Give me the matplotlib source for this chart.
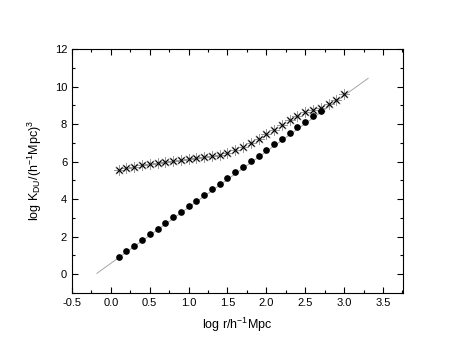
import matplotlib

matplotlib.use("Agg")
import matplotlib.pyplot as plt
from matplotlib.ticker import MultipleLocator

plt.rcParams["font.family"] = ["Liberation Sans", "DejaVu Sans"]

# filled circles
dot_x = [0.1, 0.2, 0.3, 0.4, 0.5, 0.6, 0.7, 0.8, 0.9, 1.0, 1.1, 1.2, 1.3, 1.4,
         1.5, 1.6, 1.7, 1.8, 1.9, 2.0, 2.1, 2.2, 2.3, 2.4, 2.5, 2.6, 2.7]
dot_y = [0.90, 1.22, 1.52, 1.82, 2.12, 2.42, 2.72, 3.02, 3.32, 3.62, 3.92, 4.22,
         4.52, 4.82, 5.12, 5.42, 5.72, 6.02, 6.32, 6.62, 6.92, 7.22, 7.52, 7.82,
         8.12, 8.42, 8.70]

# crosses
star_x = [0.1, 0.2, 0.3, 0.4, 0.5, 0.6, 0.7, 0.8, 0.9, 1.0, 1.1, 1.2, 1.3, 1.4,
          1.5, 1.6, 1.7, 1.8, 1.9, 2.0, 2.1, 2.2, 2.3, 2.4, 2.5, 2.6, 2.7, 2.8,
          2.9, 3.0]
star_y = [5.55, 5.63, 5.72, 5.80, 5.86, 5.92, 5.98, 6.03, 6.08, 6.12, 6.17, 6.22,
          6.28, 6.35, 6.44, 6.60, 6.79, 7.00, 7.22, 7.45, 7.70, 7.95, 8.20, 8.42,
          8.62, 8.75, 8.86, 9.05, 9.28, 9.62]

# thin reference line (end points)
fit_x = [-0.18, 3.31]
fit_y = [0.04, 10.44]

fig = plt.figure(figsize=(4.5, 3.55), dpi=100)
ax = fig.add_axes([0.16, 0.175, 0.736, 0.687])

ax.plot(fit_x, fit_y, color="0.6", lw=0.6, zorder=1)
ax.plot(star_x, star_y, ls="none", marker=(8, 2, 0), ms=7.5, mec="0.6",
        mew=0.6, zorder=2)
ax.plot(star_x, star_y, ls="none", marker="x", ms=5, mec="black", mew=0.8,
        zorder=3)
ax.plot(dot_x, dot_y, ls="none", marker="o", ms=3.8, color="black", zorder=4)

ax.set_xlim(-0.5, 3.76)
ax.set_ylim(-1, 12)
ax.xaxis.set_major_locator(MultipleLocator(0.5))
ax.xaxis.set_minor_locator(MultipleLocator(0.25))
ax.yaxis.set_major_locator(MultipleLocator(2))
ax.yaxis.set_minor_locator(MultipleLocator(1))
ax.xaxis.set_major_formatter(matplotlib.ticker.FormatStrFormatter("%.1f"))
ax.tick_params(which="both", direction="in", top=True, right=True,
               labelsize=8, width=0.8)
ax.tick_params(which="major", length=4)
ax.tick_params(which="minor", length=2)
for s in ax.spines.values():
    s.set_linewidth(0.8)

ax.set_xlabel(r"log r/h$^{\mathregular{-1}}$Mpc", fontsize=9, labelpad=6)
ax.set_ylabel(r"log K$_{\mathregular{DU}}$/(h$^{\mathregular{-1}}$Mpc)$^{\mathregular{3}}$",
              fontsize=9, labelpad=8)

fig.savefig("out.png", dpi=100)
